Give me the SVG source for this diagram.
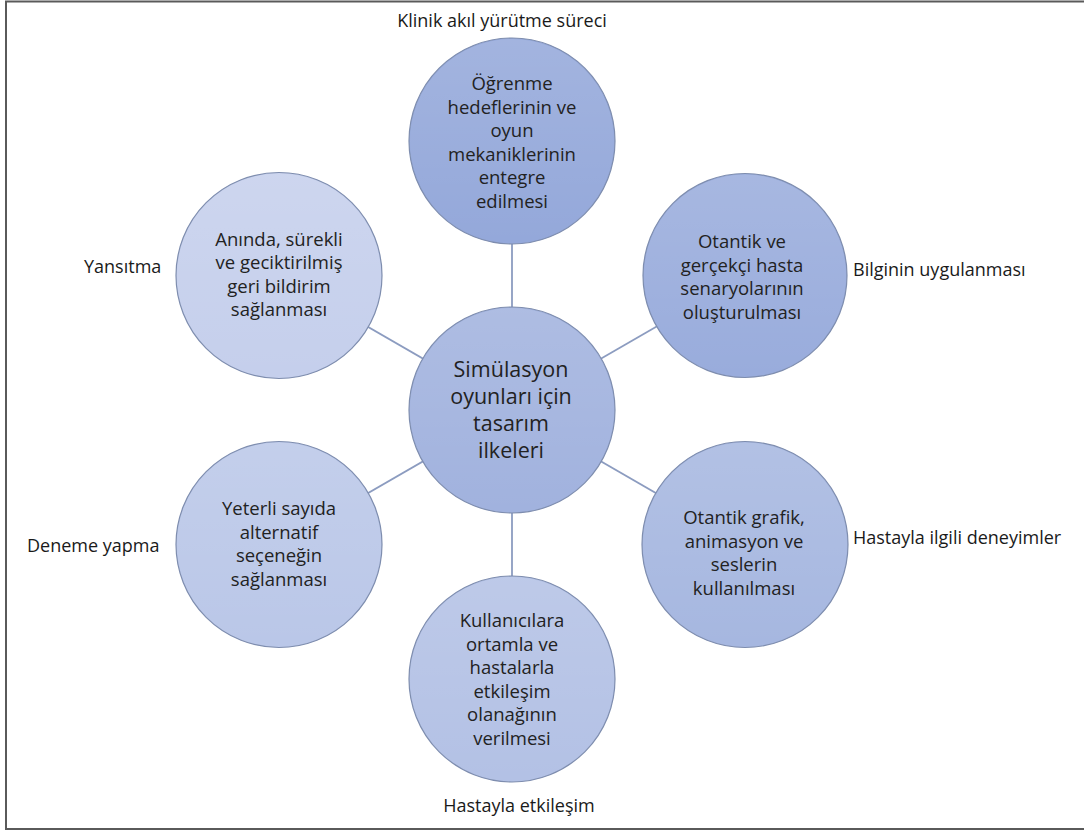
<svg xmlns="http://www.w3.org/2000/svg" width="1084" height="832" viewBox="0 0 1084 832">
<style>
  .c { stroke: #7E8DAE; stroke-width: 1.2; }
  .t { font-family: "Open Sans", "Noto Sans", sans-serif; font-size: 18.5px; fill: #222222; text-anchor: middle; }
  .tc { font-family: "Open Sans", "Noto Sans", sans-serif; font-size: 21.5px; fill: #222222; text-anchor: middle; }
  .l { font-family: "Open Sans", "Noto Sans", sans-serif; font-size: 18px; fill: #1a1a1a; }
  .conn line { stroke: #8C9CC0; stroke-width: 1.8; }
</style>
<defs>
  <linearGradient id="sh" x1="0" y1="0" x2="0" y2="1">
    <stop offset="0" stop-color="#ffffff" stop-opacity="0.14"/>
    <stop offset="1" stop-color="#ffffff" stop-opacity="0"/>
  </linearGradient>
</defs>
<rect x="0" y="0" width="1084" height="832" fill="#ffffff"/>
<rect x="6" y="1.5" width="1090" height="827.5" fill="none" stroke="#5a5a5a" stroke-width="2"/>

<g id="connectors" class="conn">
  <line x1="512" y1="410" x2="512" y2="141"/>
  <line x1="512" y1="410" x2="745" y2="275.5"/>
  <line x1="512" y1="410" x2="745" y2="544.5"/>
  <line x1="512" y1="410" x2="512" y2="679"/>
  <line x1="512" y1="410" x2="279" y2="544.5"/>
  <line x1="512" y1="410" x2="279" y2="275.5"/>
</g>

<g id="node-top">
  <circle class="c" cx="512" cy="141" r="103" fill="#94A8DA"/>
  <circle cx="512" cy="141" r="102" fill="url(#sh)"/>
  <text class="t" x="512" y="90">Öğrenme</text>
  <text class="t" x="512" y="113.5">hedeflerinin ve</text>
  <text class="t" x="512" y="137">oyun</text>
  <text class="t" x="512" y="160.5">mekaniklerinin</text>
  <text class="t" x="512" y="184">entegre</text>
  <text class="t" x="512" y="207.5">edilmesi</text>
</g>

<g id="node-top-right">
  <circle class="c" cx="745" cy="275.5" r="102" fill="#99ACDC"/>
  <circle cx="745" cy="275.5" r="101" fill="url(#sh)"/>
  <text class="t" x="742" y="248">Otantik ve</text>
  <text class="t" x="742" y="271.5">gerçekçi hasta</text>
  <text class="t" x="742" y="295">senaryolarının</text>
  <text class="t" x="742" y="318.5">oluşturulması</text>
</g>

<g id="node-bottom-right">
  <circle class="c" cx="745" cy="544.5" r="103" fill="#A6B7E0"/>
  <circle cx="745" cy="544.5" r="102" fill="url(#sh)"/>
  <text class="t" x="744" y="524">Otantik grafik,</text>
  <text class="t" x="744" y="547.5">animasyon ve</text>
  <text class="t" x="744" y="571">seslerin</text>
  <text class="t" x="744" y="594.5">kullanılması</text>
</g>

<g id="node-bottom">
  <circle class="c" cx="512" cy="679" r="103" fill="#B3C1E5"/>
  <circle cx="512" cy="679" r="102" fill="url(#sh)"/>
  <text class="t" x="512" y="627">Kullanıcılara</text>
  <text class="t" x="512" y="650.5">ortamla ve</text>
  <text class="t" x="512" y="674">hastalarla</text>
  <text class="t" x="512" y="697.5">etkileşim</text>
  <text class="t" x="512" y="721">olanağının</text>
  <text class="t" x="512" y="744.5">verilmesi</text>
</g>

<g id="node-bottom-left">
  <circle class="c" cx="279" cy="544.5" r="103" fill="#BAC7E8"/>
  <circle cx="279" cy="544.5" r="102" fill="url(#sh)"/>
  <text class="t" x="279" y="515">Yeterli sayıda</text>
  <text class="t" x="279" y="538.5">alternatif</text>
  <text class="t" x="279" y="562">seçeneğin</text>
  <text class="t" x="279" y="585.5">sağlanması</text>
</g>

<g id="node-top-left">
  <circle class="c" cx="279" cy="275.5" r="103" fill="#C5CFEC"/>
  <circle cx="279" cy="275.5" r="102" fill="url(#sh)"/>
  <text class="t" x="279" y="245.5">Anında, sürekli</text>
  <text class="t" x="279" y="269">ve geciktirilmiş</text>
  <text class="t" x="279" y="292.5">geri bildirim</text>
  <text class="t" x="279" y="316">sağlanması</text>
</g>

<g id="node-center">
  <circle class="c" cx="512" cy="410" r="103" fill="#A1B2DE"/>
  <circle cx="512" cy="410" r="102" fill="url(#sh)"/>
  <text class="tc" x="511" y="377">Simülasyon</text>
  <text class="tc" x="511" y="404">oyunları için</text>
  <text class="tc" x="511" y="431">tasarım</text>
  <text class="tc" x="511" y="458">ilkeleri</text>
</g>

<g id="labels">
  <text class="l" x="502" y="27" text-anchor="middle">Klinik akıl yürütme süreci</text>
  <text class="l" x="853" y="276">Bilginin uygulanması</text>
  <text class="l" x="853" y="544">Hastayla ilgili deneyimler</text>
  <text class="l" x="519" y="812" text-anchor="middle">Hastayla etkileşim</text>
  <text class="l" x="27" y="552">Deneme yapma</text>
  <text class="l" x="84" y="273">Yansıtma</text>
</g>
</svg>
